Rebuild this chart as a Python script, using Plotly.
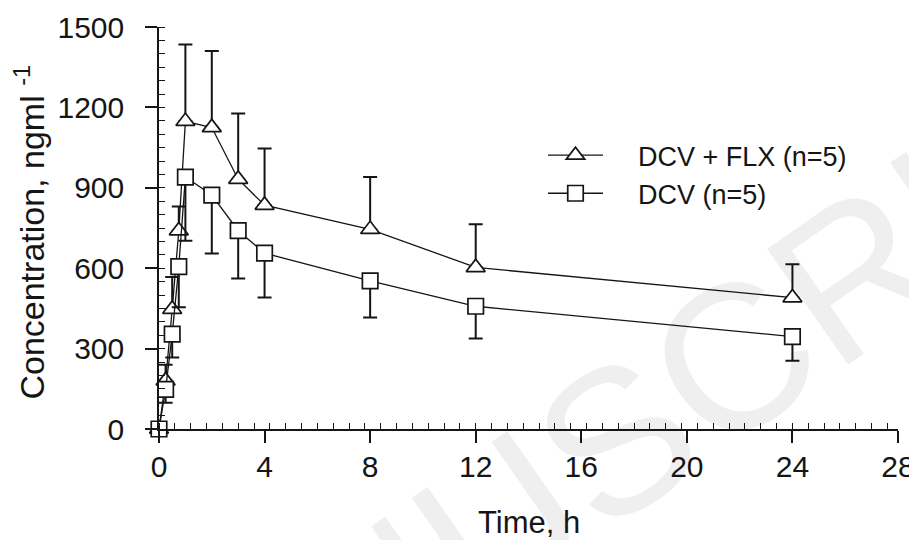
import plotly.graph_objects as go

time_h = [0, 0.25, 0.5, 0.75, 1, 2, 3, 4, 8, 12, 24]

dcv_flx_mean = [0, 180, 447, 740, 1148, 1125, 932, 835, 745, 603, 490]
dcv_flx_err_up = [0, 60, 120, 90, 287, 285, 245, 212, 195, 161, 125]

dcv_mean = [0, 148, 354, 606, 940, 873, 740, 656, 553, 458, 345]
dcv_err_down = [0, 50, 87, 152, 238, 218, 178, 165, 137, 120, 90]

zeros = [0] * len(time_h)

font_family = "Liberation Sans, Arial, sans-serif"
ink = "#151515"

# page has an 8px body margin, so the figure is 8px smaller than the window
W, H = 909, 532
L, R, T, B = 150.5, 18.5, 18.7, 110.5
plot_w = W - L - R
plot_h = H - T - B

fig = go.Figure()

fig.add_trace(go.Scatter(
    x=time_h, y=dcv_flx_mean, mode="lines+markers",
    name="\u00a0\u00a0\u00a0\u00a0DCV + FLX (n=5)",
    line=dict(color=ink, width=1.3),
    marker=dict(symbol="triangle-up", size=16.5, color="white",
                line=dict(color=ink, width=1.7)),
    error_y=dict(type="data", symmetric=False, array=dcv_flx_err_up,
                 arrayminus=zeros, color=ink, thickness=2, width=7),
    cliponaxis=False,
))

fig.add_trace(go.Scatter(
    x=time_h, y=dcv_mean, mode="lines+markers",
    name="\u00a0\u00a0\u00a0\u00a0DCV (n=5)",
    line=dict(color=ink, width=1.3),
    marker=dict(symbol="square", size=15.5, color="white",
                line=dict(color=ink, width=1.7)),
    error_y=dict(type="data", symmetric=False, array=zeros,
                 arrayminus=dcv_err_down, color=ink, thickness=2, width=7),
    cliponaxis=False,
))

# faint watermark, drawn beneath the data
fig.add_shape(
    type="rect", xref="paper", yref="paper",
    x0=0.56, x1=0.66, y0=-0.03, y1=0.07,
    line=dict(width=0), fillcolor="rgba(0,0,0,0)", layer="below",
    label=dict(text="MANUSCRIPT", textangle=-35, textposition="middle center",
               font=dict(family=font_family, size=205, color="#efefef")),
)

# y-axis title
fig.add_annotation(
    text="Concentration, ngml <sup>-1</sup>",
    x=(21 - L) / plot_w, y=(H - B - 224) / plot_h,
    xref="paper", yref="paper", xanchor="center", yanchor="middle",
    showarrow=False, textangle=-90,
    font=dict(family=font_family, size=34, color=ink),
)

# x-axis title
fig.add_annotation(
    text="Time, h",
    x=0.5, y=(H - B - 515) / plot_h,
    xref="paper", yref="paper", xanchor="center", yanchor="middle",
    showarrow=False,
    font=dict(family=font_family, size=31, color=ink),
)

fig.update_layout(
    width=W, height=H,
    margin=dict(l=L, r=R, t=T, b=B, autoexpand=False),
    paper_bgcolor="white", plot_bgcolor="rgba(0,0,0,0)",
    font=dict(family=font_family, color=ink, size=30),
    showlegend=True,
    legend=dict(x=(535 - L) / plot_w, y=(H - B - 123) / plot_h,
                xanchor="left", yanchor="top",
                bgcolor="rgba(0,0,0,0)", font=dict(size=27),
                itemwidth=55, tracegroupgap=0),
)

fig.update_xaxes(
    range=[0, 28], tickmode="linear", tick0=0, dtick=4,
    automargin=False,
    showgrid=False, zeroline=False, showline=True, linecolor=ink, linewidth=1.5,
    ticks="outside", ticklen=12, tickwidth=1.5, tickcolor=ink,
    minor=dict(ticks="inside", ticklen=6, tickwidth=1.2, tickcolor=ink,
               tick0=0.6, dtick=0.6, showgrid=False),
    tickfont=dict(size=30),
    ticklabelstandoff=-2,
)

fig.update_yaxes(
    range=[0, 1500], tickmode="linear", tick0=0, dtick=300,
    automargin=False,
    showgrid=False, zeroline=False, showline=True, linecolor=ink, linewidth=1.5,
    ticks="outside", ticklen=12, tickwidth=1.5, tickcolor=ink,
    minor=dict(ticks="inside", ticklen=6, tickwidth=1.2, tickcolor=ink,
               dtick=50, showgrid=False),
    tickfont=dict(size=30),
    ticklabelstandoff=15,
)

fig.write_html("out.html")
